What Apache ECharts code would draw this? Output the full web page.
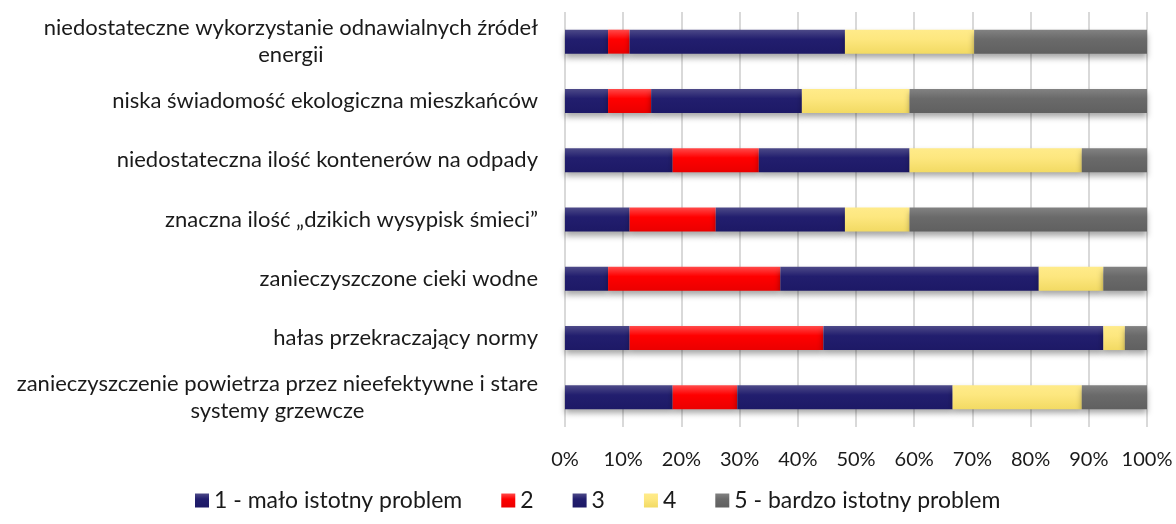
<!DOCTYPE html>
<html>
<head>
<meta charset="utf-8">
<script src="https://cdn.jsdelivr.net/npm/echarts@6/dist/echarts.min.js"></script>
<style>
  html, body { margin: 0; padding: 0; background: #fff; }
  #chart { width: 1176px; height: 524px; }
</style>
</head>
<body>
<div id="chart"></div>
<script>
const categories = [
  'niedostateczne wykorzystanie odnawialnych źródeł\nenergii',
  'niska świadomość ekologiczna mieszkańców',
  'niedostateczna ilość kontenerów na odpady',
  'znaczna ilość „dzikich wysypisk śmieci”',
  'zanieczyszczone cieki wodne',
  'hałas przekraczający normy',
  'zanieczyszczenie powietrza przez nieefektywne i stare\nsystemy grzewcze',
];

const seriesNames = ['1 - mało istotny problem', '2', '3', '4', '5 - bardzo istotny problem'];

// shares in percent, one value per category (top to bottom)
const level1 = [7.4, 7.4, 18.5, 11.1, 7.4, 11.1, 18.5];
const level2 = [3.7, 7.4, 14.8, 14.8, 29.6, 33.3, 11.1];
const level3 = [37.0, 25.9, 25.9, 22.2, 44.4, 48.1, 37.0];
const level4 = [22.2, 18.5, 29.6, 11.1, 11.1, 3.7, 22.2];
const level5 = [29.7, 40.8, 11.2, 40.8, 7.5, 3.8, 11.2];

const tickValues = [0, 10, 20, 30, 40, 50, 60, 70, 80, 90, 100];

const fontFamily = 'Lato, "Noto Sans", sans-serif';

function grad(top, mid, bottom) {
  return new echarts.graphic.LinearGradient(0, 0, 0, 1, [
    { offset: 0, color: top },
    { offset: 0.4, color: mid },
    { offset: 1, color: bottom },
  ]);
}

const palette = [
  grad('#4d4a88', '#221e6e', '#1d1966'),
  grad('#ff4a4a', '#ff0000', '#ea0000'),
  grad('#4d4a88', '#221e6e', '#1d1966'),
  grad('#ffeb8a', '#fde77f', '#f2da63'),
  grad('#828282', '#6a6a6a', '#606060'),
];

const levels = [level1, level2, level3, level4, level5];

const chart = echarts.init(document.getElementById('chart'), null, { renderer: 'canvas' });

chart.setOption({
  backgroundColor: '#ffffff',
  animation: false,
  textStyle: { fontFamily },
  legend: {
    top: 484,
    left: 190,
    icon: 'rect',
    itemWidth: 14,
    itemHeight: 14,
    itemGap: 39,
    textStyle: { color: '#1a1a1a', fontSize: 23, fontFamily },
    data: seriesNames,
  },
  grid: { left: 565, right: 29, top: 12, bottom: 97 },
  xAxis: {
    type: 'value',
    min: 0,
    max: 100,
    interval: 10,
    axisLine: { show: false },
    axisTick: { show: false },
    axisLabel: {
      color: '#1a1a1a',
      fontSize: 20,
      fontFamily,
      margin: 23,
      formatter: (v) => (tickValues.includes(v) ? v + '%' : ''),
    },
    splitLine: { lineStyle: { color: '#d9d9d9', width: 2 } },
  },
  yAxis: {
    type: 'category',
    inverse: true,
    data: categories,
    axisLine: { show: false },
    axisTick: { show: false },
    axisLabel: {
      margin: 27,
      lineHeight: 27,
      formatter: (v) => v.split('\n').map((line) => '{c|' + line + '}').join('\n'),
      rich: {
        c: { align: 'center', fontSize: 22, color: '#1a1a1a', fontFamily, lineHeight: 27 },
      },
    },
  },
  series: levels.map((values, i) => ({
    name: seriesNames[i],
    type: 'bar',
    stack: 'total',
    barWidth: 24,
    itemStyle: {
      color: palette[i],
      shadowColor: 'rgba(0, 0, 0, 0.35)',
      shadowBlur: 6,
      shadowOffsetY: 4,
    },
    data: values,
  })),
});
</script>
</body>
</html>
